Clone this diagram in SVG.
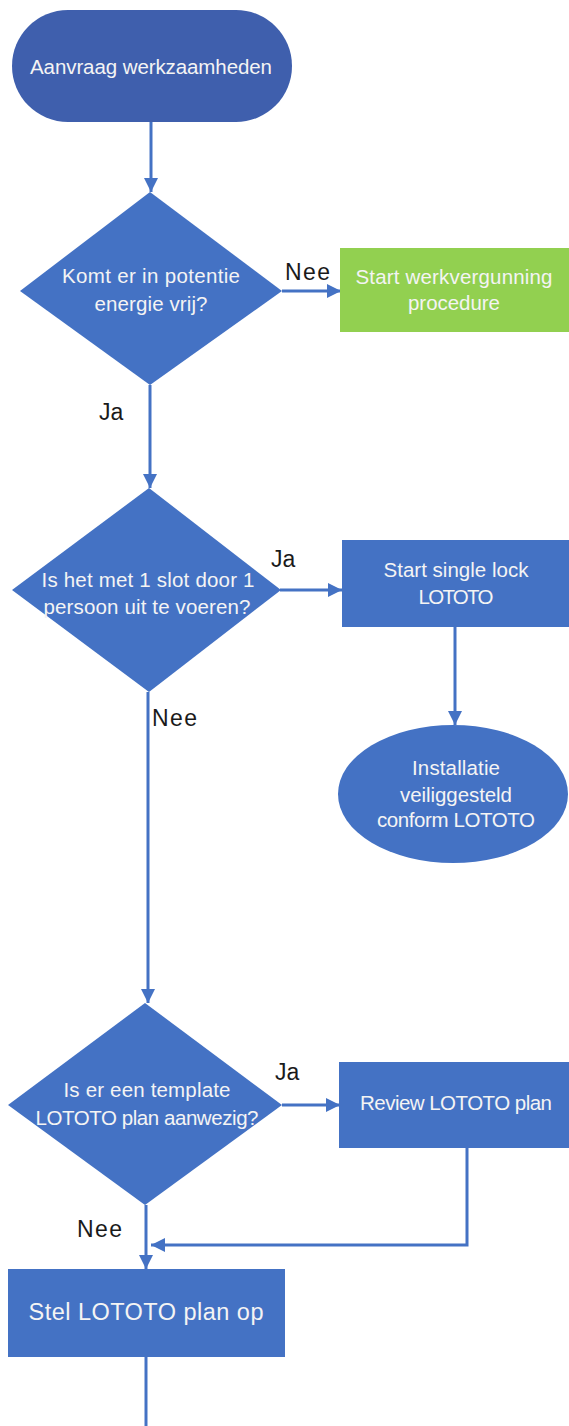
<svg xmlns="http://www.w3.org/2000/svg" width="569" height="1426" viewBox="0 0 569 1426">
<style>
.blue{fill:#4472C4}
.term{fill:#3F5FAD}
.green{fill:#92D050}
.t{font-family:"Liberation Sans",Arial,sans-serif;font-size:20.5px;fill:#F4F4F4;text-anchor:middle}
.lbl{font-family:"Liberation Sans",Arial,sans-serif;font-size:23px;fill:#1a1a1a}
.c{fill:none;stroke:#4472C4;stroke-width:3}
</style>
<defs>
<marker id="ah" markerUnits="userSpaceOnUse" markerWidth="16" markerHeight="14" refX="14" refY="7" orient="auto">
<path d="M0,0 L14,7 L0,14 Z" fill="#4472C4"/>
</marker>
</defs>
<rect width="569" height="1426" fill="#ffffff"/>
<g id="connectors">
<path class="c" d="M151,122 V192" marker-end="url(#ah)"/>
<path class="c" d="M282,291 H341" marker-end="url(#ah)"/>
<path class="c" d="M150,385 V488" marker-end="url(#ah)"/>
<path class="c" d="M280,590 H342" marker-end="url(#ah)"/>
<path class="c" d="M455,627 V725" marker-end="url(#ah)"/>
<path class="c" d="M148,692 V1003" marker-end="url(#ah)"/>
<path class="c" d="M282,1105 H340" marker-end="url(#ah)"/>
<path class="c" d="M467,1148 V1245 H151" marker-end="url(#ah)"/>
<path class="c" d="M146,1205 V1269" marker-end="url(#ah)"/>
<path class="c" d="M146,1357 V1426"/>
<text class="lbl" x="285" y="280" textLength="45">Nee</text>
<text class="lbl" x="99" y="420">Ja</text>
<text class="lbl" x="271" y="567">Ja</text>
<text class="lbl" x="152" y="726" textLength="45">Nee</text>
<text class="lbl" x="275" y="1080">Ja</text>
<text class="lbl" x="77" y="1237" textLength="45">Nee</text>
</g>
<g id="n1">
<rect class="term" x="12" y="10" width="280" height="112" rx="56"/>
<text class="t" x="151" y="74" textLength="242">Aanvraag werkzaamheden</text>
</g>
<g id="n2">
<polygon class="blue" points="150,192 282,291 150,385 20,291"/>
<text class="t" x="151" y="283" textLength="178">Komt er in potentie</text>
<text class="t" x="151" y="311" textLength="113">energie vrij?</text>
</g>
<g id="n3">
<rect class="green" x="340" y="248" width="229" height="84"/>
<text class="t" x="454" y="284" textLength="197">Start werkvergunning</text>
<text class="t" x="454" y="310" textLength="92">procedure</text>
</g>
<g id="n4">
<polygon class="blue" points="149,488 281,590 149,692 12,590"/>
<text class="t" x="148" y="587" textLength="213">Is het met 1 slot door 1</text>
<text class="t" x="147" y="614" textLength="207">persoon uit te voeren?</text>
</g>
<g id="n5">
<rect class="blue" x="342" y="540" width="227" height="87"/>
<text class="t" x="456" y="577" textLength="145">Start single lock</text>
<text class="t" x="456" y="604" textLength="75">LOTOTO</text>
</g>
<g id="n6">
<ellipse class="blue" cx="453" cy="794" rx="115" ry="69"/>
<text class="t" x="456" y="775" textLength="88">Installatie</text>
<text class="t" x="456" y="802" textLength="112">veiliggesteld</text>
<text class="t" x="456" y="827" textLength="158">conform LOTOTO</text>
</g>
<g id="n7">
<polygon class="blue" points="145,1003 282,1105 145,1205 8,1105"/>
<text class="t" x="147" y="1097" textLength="167">Is er een template</text>
<text class="t" x="147" y="1125" textLength="223">LOTOTO plan aanwezig?</text>
</g>
<g id="n8">
<rect class="blue" x="339" y="1062" width="230" height="86"/>
<text class="t" x="456" y="1110" textLength="192">Review LOTOTO plan</text>
</g>
<g id="n9">
<rect class="blue" x="8" y="1269" width="277" height="88"/>
<text class="t" x="146" y="1320" style="font-size:23.5px" textLength="235">Stel LOTOTO plan op</text>
</g>
</svg>
